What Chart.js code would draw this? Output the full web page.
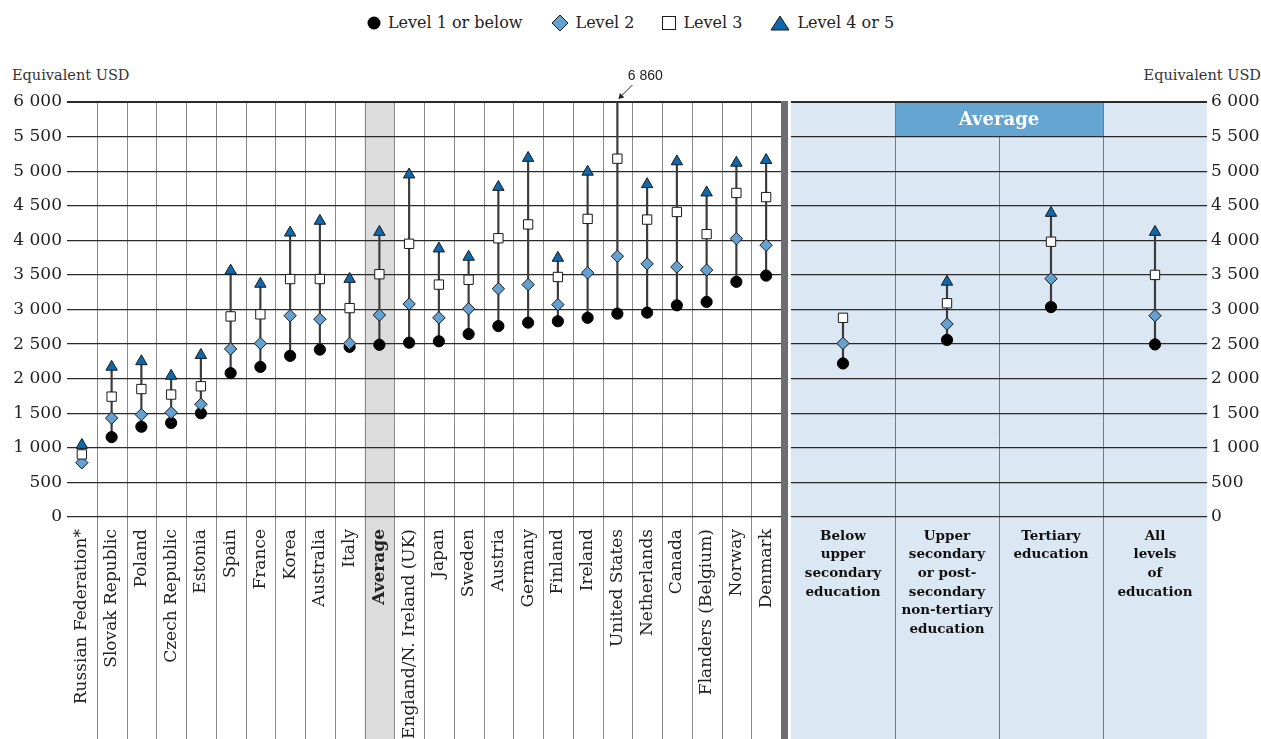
<!DOCTYPE html>
<html>
<head>
<meta charset="utf-8">
<script src="https://cdn.jsdelivr.net/npm/chart.js@4"></script>
<style>
body { margin: 0; background: #fff; width: 1261px; height: 739px; overflow: hidden; position: relative; font-family: 'DejaVu Serif', serif; color: #222; }
canvas { position: absolute; top: 0; }
#chartA { left: 0; }
#chartB { left: 781px; }
.legend { position: absolute; top: 13px; left: 0; width: 1261px; display: flex; justify-content: center; align-items: center; font-size: 16px; }
.legend span { display: flex; align-items: center; margin: 0 14px; }
.legend svg { margin-right: 7px; }
.unit { position: absolute; top: 67px; font-size: 14.5px; color: #333; }
.sep { position: absolute; left: 781px; top: 101px; width: 7px; height: 638px; background: #6d6e71; }
</style>
</head>
<body>
<div class="legend">
  <span><svg width="14" height="14"><circle cx="7" cy="7" r="6.5" fill="#000"/></svg>Level 1 or below</span>
  <span><svg width="18" height="18"><path d="M9 1 L17 9 L9 17 L1 9 Z" fill="#64a0d0" stroke="#1a1a1a"/></svg>Level 2</span>
  <span><svg width="14" height="14"><rect x="0.5" y="0.5" width="13" height="13" fill="#fff" stroke="#1a1a1a"/></svg>Level 3</span>
  <span><svg width="20" height="16"><path d="M10 1 L19 15 L1 15 Z" fill="#0d68ae" stroke="#1a1a1a"/></svg>Level 4 or 5</span>
</div>
<div class="unit" style="left:12px">Equivalent USD</div>
<div class="unit" style="right:0">Equivalent USD</div>
<canvas id="chartA" width="781" height="739"></canvas>
<div class="sep"></div>
<canvas id="chartB" width="480" height="739"></canvas>
<script>
// Countries (left panel)
const countries = ['Russian Federation*', 'Slovak Republic', 'Poland', 'Czech Republic', 'Estonia', 'Spain', 'France', 'Korea', 'Australia', 'Italy', 'Average', 'England/N. Ireland (UK)', 'Japan', 'Sweden', 'Austria', 'Germany', 'Finland', 'Ireland', 'United States', 'Netherlands', 'Canada', 'Flanders (Belgium)', 'Norway', 'Denmark']
const level1 = [null, 1155, 1305, 1360, 1500, 2080, 2170, 2330, 2420, 2460, 2490, 2520, 2540, 2645, 2760, 2810, 2830, 2880, 2940, 2955, 3060, 3110, 3400, 3490]
const level2 = [785, 1430, 1480, 1510, 1630, 2430, 2510, 2910, 2860, 2510, 2920, 3080, 2880, 3010, 3300, 3360, 3070, 3530, 3770, 3660, 3615, 3570, 4025, 3930]
const level3 = [905, 1740, 1850, 1770, 1890, 2900, 2930, 3440, 3440, 3020, 3510, 3950, 3360, 3430, 4030, 4230, 3470, 4310, 5180, 4300, 4410, 4090, 4685, 4625]
const level45 = [1040, 2170, 2250, 2040, 2340, 3560, 3370, 4110, 4280, 3440, 4120, 4950, 3880, 3760, 4770, 5190, 3745, 4990, 6860, 4810, 5140, 4690, 5120, 5160]

// Education levels (right panel, average)
const eduLevels = [['Below', 'upper', 'secondary', 'education'], ['Upper', 'secondary', 'or post-', 'secondary', 'non-tertiary', 'education'], ['Tertiary', 'education'], ['All', 'levels', 'of', 'education']]
const eduLevel1 = [2220, 2560, 3035, 2495]
const eduLevel2 = [2510, 2790, 3445, 2910]
const eduLevel3 = [2880, 3090, 3980, 3500]
const eduLevel45 = [null, 3400, 4395, 4120]

const yTicks = [0, 500, 1000, 1500, 2000, 2500, 3000, 3500, 4000, 4500, 5000, 5500, 6000]

const fmt = v => v >= 1000 ? Math.floor(v / 1000) + ' ' + String(v % 1000).padStart(3, '0') : String(v)

// Range min-max of each column for the vertical connector
const rangeOf = (...series) => series[0].map((_, i) => {
    const vals = series.map(s => s[i]).filter(v => v != null)
    return [Math.min(...vals), Math.max(...vals)]
})

const markerSets = (a, b, c, d) => [
    {type: 'bar', data: rangeOf(a, b, c, d), backgroundColor: '#3a3a3a', barThickness: 1.5, borderWidth: 0, order: 10},
    {type: 'line', label: 'Level 1 or below', data: a, showLine: false, pointStyle: 'circle', pointRadius: 5.6, backgroundColor: '#000', borderColor: '#000', borderWidth: 1, order: 4},
    {type: 'line', label: 'Level 2', data: b, showLine: false, pointStyle: 'rectRot', pointRadius: 6.2, backgroundColor: '#64a0d0', borderColor: '#1a1a1a', borderWidth: 1, order: 3},
    {type: 'line', label: 'Level 3', data: c, showLine: false, pointStyle: 'rect', pointRadius: 6.6, backgroundColor: '#fff', borderColor: '#1a1a1a', borderWidth: 1, order: 2},
    {type: 'line', label: 'Level 4 or 5', data: d, showLine: false, pointStyle: 'triangle', pointRadius: 6.6, backgroundColor: '#0d68ae', borderColor: '#1a1a1a', borderWidth: 1, order: 1}
]

const yScale = (pos, width, pad) => ({
    position: pos,
    min: 0, max: 6000,
    afterBuildTicks: s => { s.ticks = yTicks.map(v => ({value: v})) },
    afterFit: s => { s.width = width },
    border: {display: false},
    grid: {color: '#2b2b2b', lineWidth: c => c.tick && c.tick.value === 6000 ? 2 : 1.2, drawTicks: false},
    ticks: {padding: pad, color: '#222', font: {family: 'DejaVu Serif', size: 17}, callback: v => fmt(v)}
})

// x axis box: fixed height, no extra side padding
const fitX = s => {
    s.height = 222
    s.paddingLeft = 0
    s.paddingRight = 0
}

// Left panel background: average column and vertical lines
const leftBack = {
    id: 'leftBack',
    beforeDraw(chart) {
        const {ctx, chartArea, scales: {x}} = chart
        const w = x.getPixelForValue(1) - x.getPixelForValue(0)
        const avg = countries.indexOf('Average')
        ctx.save()
        ctx.fillStyle = '#dcdcdd'
        ctx.fillRect(x.getPixelForValue(avg) - w / 2, chartArea.top, w, chart.height - chartArea.top)
        ctx.strokeStyle = '#8a8a8a'
        ctx.lineWidth = 1
        for (let i = 0; i < countries.length - 1; i++) {
            const px = Math.round(x.getPixelForValue(i) + w / 2) + 0.5
            ctx.beginPath()
            ctx.moveTo(px, chartArea.top)
            ctx.lineTo(px, chart.height)
            ctx.stroke()
        }
        ctx.restore()
    },
    afterDraw(chart) {
        // note for the value out of scale
        const {ctx, chartArea, scales: {x}} = chart
        const us = countries.indexOf('United States')
        const px = x.getPixelForValue(us)
        const top = chartArea.top
        ctx.save()
        ctx.fillStyle = '#222'
        ctx.font = '14px "Liberation Sans"'
        ctx.textAlign = 'center'
        ctx.textBaseline = 'middle'
        ctx.fillText(fmt(level45[us]), px + 28, top - 26)
        ctx.strokeStyle = '#222'
        ctx.lineWidth = 1
        ctx.beginPath()
        ctx.moveTo(px + 15, top - 17)
        ctx.lineTo(px + 2, top - 4)
        ctx.stroke()
        ctx.beginPath()
        ctx.moveTo(px + 1, top - 3)
        ctx.lineTo(px + 2.5, top - 9)
        ctx.lineTo(px + 7, top - 4.5)
        ctx.closePath()
        ctx.fillStyle = '#222'
        ctx.fill()
        ctx.restore()
    }
}

// Right panel background: blue area, header and vertical lines
const rightBack = {
    id: 'rightBack',
    beforeDraw(chart) {
        const {ctx, chartArea, scales: {x, y}} = chart
        const w = x.getPixelForValue(1) - x.getPixelForValue(0)
        ctx.save()
        ctx.fillStyle = '#dbe7f3'
        ctx.fillRect(chartArea.left, chartArea.top, chartArea.right - chartArea.left, chart.height - chartArea.top)
        const hx0 = x.getPixelForValue(1) - w / 2
        const hx1 = x.getPixelForValue(2) + w / 2
        const hy1 = y.getPixelForValue(5500)
        ctx.fillStyle = '#64a5d1'
        ctx.fillRect(hx0, chartArea.top, hx1 - hx0, hy1 - chartArea.top)
        ctx.fillStyle = '#fff'
        ctx.font = 'bold 18px "DejaVu Serif"'
        ctx.textAlign = 'center'
        ctx.textBaseline = 'middle'
        ctx.fillText('Average', (hx0 + hx1) / 2, (chartArea.top + hy1) / 2 + 1)
        ctx.strokeStyle = '#7a7a7a'
        ctx.lineWidth = 1
        for (let i = 0; i < eduLevels.length - 1; i++) {
            const px = Math.round(x.getPixelForValue(i) + w / 2) + 0.5
            const from = i === 1 ? hy1 : chartArea.top
            ctx.beginPath()
            ctx.moveTo(px, from)
            ctx.lineTo(px, chart.height)
            ctx.stroke()
        }
        ctx.restore()
    }
}

let chartA = new Chart(document.getElementById('chartA'), {
    type: 'bar',
    data: {labels: countries, datasets: markerSets(level1, level2, level3, level45)},
    options: {
        responsive: false,
        animation: false,
        events: [],
        layout: {autoPadding: false, padding: {top: 102, left: 0, right: 0, bottom: 0}},
        plugins: {legend: {display: false}, tooltip: {enabled: false}},
        scales: {
            x: {
                afterFit: fitX,
                grid: {display: false},
                border: {display: false},
                ticks: {
                    autoSkip: false, maxRotation: 90, minRotation: 90, padding: 4, color: '#222',
                    font: c => ({family: 'DejaVu Serif', size: 17, weight: countries[c.index] === 'Average' ? 'bold' : 'normal'})
                }
            },
            y: yScale('left', 67, 5)
        }
    },
    plugins: [leftBack]
})

let chartB = new Chart(document.getElementById('chartB'), {
    type: 'bar',
    data: {labels: eduLevels, datasets: markerSets(eduLevel1, eduLevel2, eduLevel3, eduLevel45)},
    options: {
        responsive: false,
        animation: false,
        events: [],
        layout: {autoPadding: false, padding: {top: 102, left: 10, right: 0, bottom: 0}},
        plugins: {legend: {display: false}, tooltip: {enabled: false}},
        scales: {
            x: {
                afterFit: fitX,
                grid: {display: false},
                border: {display: false},
                ticks: {
                    autoSkip: false, maxRotation: 0, minRotation: 0, padding: 2, color: '#111',
                    font: {family: 'DejaVu Serif', size: 13.5, weight: 'bold', lineHeight: 1.38}
                }
            },
            y: yScale('right', 54, 4)
        }
    },
    plugins: [rightBack]
})
</script>
</body>
</html>
